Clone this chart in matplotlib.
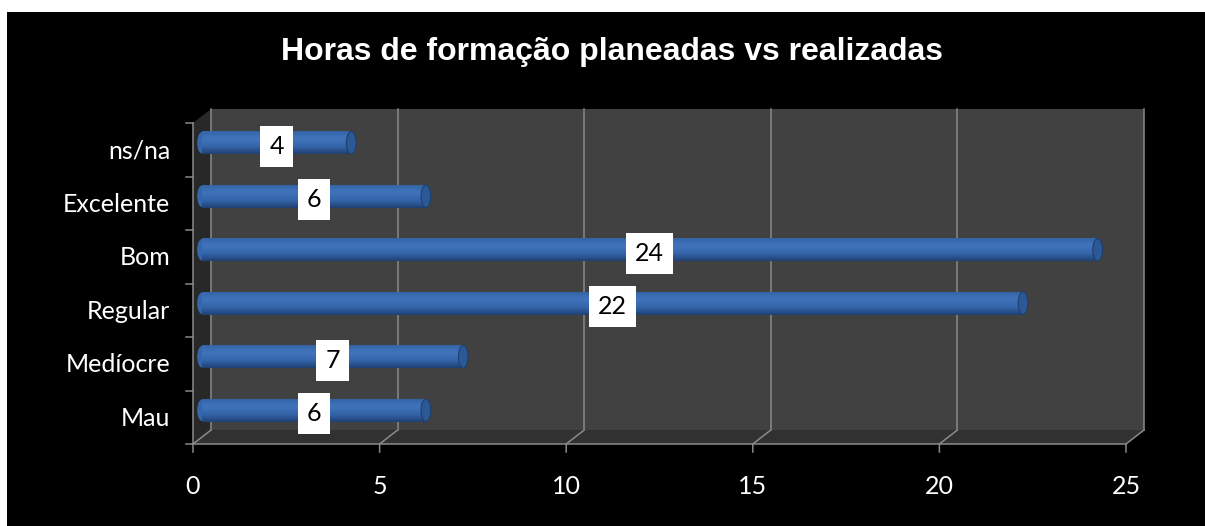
import numpy as np
import matplotlib
matplotlib.use("Agg")
import matplotlib.pyplot as plt
from matplotlib.patches import Rectangle, Ellipse, Polygon
from matplotlib.transforms import ScaledTranslation, IdentityTransform
from matplotlib.colors import LinearSegmentedColormap

# ---- data ----
categories = ["Mau", "Medíocre", "Regular", "Bom", "Excelente", "ns/na"]
values = [6, 7, 22, 24, 6, 4]
x_ticks = [0, 5, 10, 15, 20, 25]
title = "Horas de formação planeadas vs realizadas"

DPI = 100
W, H = 1205, 526
fig = plt.figure(figsize=(W / DPI, H / DPI), dpi=DPI, facecolor="white")

# black chart area (white strip at top and left)
fig.patches.append(Rectangle((7 / W, 0), 1, (H - 12) / H, transform=fig.transFigure,
                             facecolor="black", edgecolor="none", zorder=-10))

# back wall axes
left_px, right_px, top_px, bot_px = 211, 1144, 109, 430
ax = fig.add_axes([left_px / W, 1 - bot_px / H, (right_px - left_px) / W, (bot_px - top_px) / H])
ax.set_xlim(0, 25)
ax.set_ylim(-0.5, len(categories) - 0.5)
ax.set_facecolor("#414141")
for s in ax.spines.values():
    s.set_visible(False)
ax.set_xticks(x_ticks)
ax.set_yticks([])
ax.tick_params(length=0, labelbottom=False, labelleft=False)
ax.grid(axis="x", color="#8a8a8a", lw=1.1, clip_on=False)
ax.set_axisbelow(True)

def off(dx, dy):
    # pixel offset (dy positive = downwards)
    return ScaledTranslation(dx / DPI, -dy / DPI, fig.dpi_scale_trans)

DEPTH_X, DEPTH_Y = -18, 14          # back -> front
t_front = ax.transData + off(DEPTH_X, DEPTH_Y)
t_bar = ax.transData + off(DEPTH_X / 2, DEPTH_Y / 2)

fig.canvas.draw()
def disp(x, y, dx=0, dy=0):
    p = ax.transData.transform((x, y))
    return (p[0] + dx, p[1] - dy)

ymin, ymax = -0.5, len(categories) - 0.5
xmin, xmax = 0, 25

# side wall
side = Polygon([disp(xmin, ymax), disp(xmin, ymin), disp(xmin, ymin, DEPTH_X, DEPTH_Y),
                disp(xmin, ymax, DEPTH_X, DEPTH_Y)], closed=True, transform=IdentityTransform(),
               facecolor="#282828", edgecolor="none", zorder=-2)
fig.add_artist(side)
# floor
floor = Polygon([disp(xmin, ymin), disp(xmax, ymin), disp(xmax, ymin, DEPTH_X, DEPTH_Y),
                 disp(xmin, ymin, DEPTH_X, DEPTH_Y)], closed=True, transform=IdentityTransform(),
                facecolor="#313131", edgecolor="none", zorder=-2)
fig.add_artist(floor)

gcol = "#8a8a8a"
glw = 1.1
LZ = -1
# floor grid diagonals + front ticks
for t in x_ticks:
    p0 = disp(t, ymin)
    p1 = disp(t, ymin, DEPTH_X, DEPTH_Y)
    p2 = disp(t, ymin, DEPTH_X, DEPTH_Y + 8)
    fig.add_artist(plt.Line2D([p0[0], p1[0], p2[0]], [p0[1], p1[1], p2[1]],
                              transform=IdentityTransform(), color=gcol, lw=glw, zorder=LZ))
# front bottom edge
a = disp(xmin, ymin, DEPTH_X, DEPTH_Y)
b = disp(xmax, ymin, DEPTH_X, DEPTH_Y)
fig.add_artist(plt.Line2D([a[0], b[0]], [a[1], b[1]], transform=IdentityTransform(),
                          color=gcol, lw=glw, zorder=LZ))
# front left vertical axis + ticks
a = disp(xmin, ymax, DEPTH_X, DEPTH_Y)
fig.add_artist(plt.Line2D([a[0], a[0]], [a[1], disp(xmin, ymin, DEPTH_X, DEPTH_Y)[1]],
                          transform=IdentityTransform(), color=gcol, lw=glw, zorder=LZ))
for k in range(len(categories) + 1):
    p = disp(xmin, k - 0.5, DEPTH_X, DEPTH_Y)
    fig.add_artist(plt.Line2D([p[0] - 7, p[0]], [p[1], p[1]], transform=IdentityTransform(),
                              color=gcol, lw=glw, zorder=LZ))

# ---- cylinder bars ----
cmap = LinearSegmentedColormap.from_list(
    "cyl", ["#1f3f70", "#2a5390", "#3464a8", "#3a6cb3", "#3f73ba", "#3b6db4", "#3263a6"])
bar_h = 0.42
N = 24
ypos = np.arange(len(categories))
for i in range(N):
    frac = (i + 0.5) / N          # 0 bottom -> 1 top
    yc = ypos - bar_h / 2 + frac * bar_h
    bars = ax.barh(yc, values, height=bar_h / N * 1.05, left=0, color=cmap(frac),
                   linewidth=0, antialiased=False, transform=t_bar, zorder=3)
    for b_ in bars:
        b_.set_clip_on(False)
cap_w = 0.26
for y, v in zip(ypos, values):
    ax.add_patch(Ellipse((0, y), cap_w, bar_h * 0.96, facecolor="#3466aa", edgecolor="none",
                         transform=t_bar, zorder=2.9, clip_on=False))
    ax.add_patch(Ellipse((v, y), cap_w, bar_h, facecolor="#2c5896", edgecolor="#1e3f6e",
                         lw=0.8, transform=t_bar, zorder=3.2, clip_on=False))

# data labels
for y, v in zip(ypos, values):
    ax.text(v / 2, y, str(v), transform=t_bar + off(0, 3.5), ha="center", va="center",
            fontsize=18, family="Lato", color="black", zorder=5,
            bbox=dict(boxstyle="square,pad=0.36", facecolor="white", edgecolor="none"))

# category labels
for y, c in zip(ypos, categories):
    ax.text(0, y, c, transform=t_front + off(-23, 1), ha="right", va="center",
            fontsize=18, family="Lato", color="white")
# x tick labels
for t in x_ticks:
    ax.text(t, ymin, str(t), transform=t_front + off(0, 43), ha="center", va="center",
            fontsize=18, family="Lato", color="white")

fig.text(612 / W, 1 - 52 / H, title, ha="center", va="center", fontsize=23,
         fontweight="bold", family="Liberation Sans", color="white")

fig.savefig("out.png", dpi=DPI, facecolor=fig.get_facecolor())
